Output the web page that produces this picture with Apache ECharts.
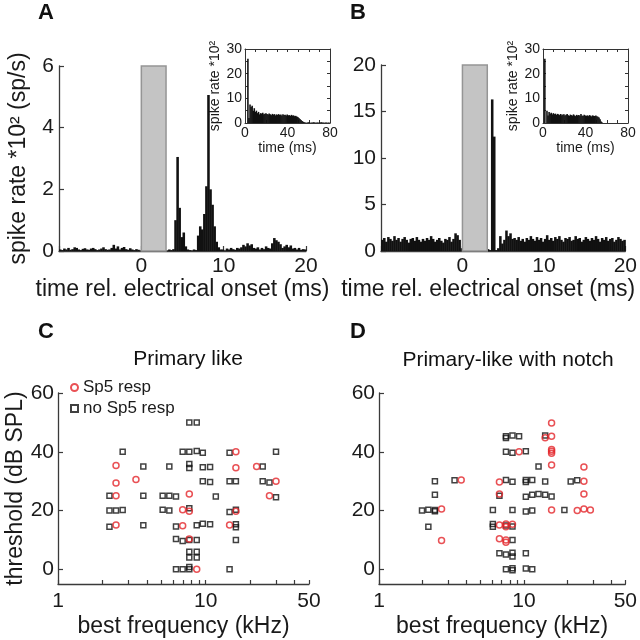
<!DOCTYPE html>
<html><head><meta charset="utf-8">
<script src="https://cdn.jsdelivr.net/npm/echarts@6/dist/echarts.min.js"></script>
<style>html,body{margin:0;padding:0;background:#fff}#c{width:640px;height:640px}</style>
</head><body><div id="c"></div>
<script>
// ---------- DATA ----------
// PSTH bins (main panels): start time (ms) and width (ms); values in *10^2 sp/s
const mainBinStart = -10;
const mainBinWidth = 0.25;
const histA = [
 0.05,0.03,0.08,0.05,0.1,0.04,0.06,0.12,0.1,0.05,
 0.03,0.07,0.09,0.05,0.04,0.08,0.1,0.06,0.03,0.05,
 0.08,0.12,0.06,0.04,0.05,0.1,0.2,0.08,0.15,0.05,
 0.1,0.13,0.06,0.04,0.09,0.05,0.03,0.06,0.04,0.02,
 0,0,0,0,0,0,0,0,0,0,0,0,
 0.02,0.05,0.03,0.06,
 1.0,3.05,1.4,0.45,0.6,0.15,0.05,0.03,
 0.02,0.05,0.03,
 0.5,0.8,0.7,1.2,2.1,5.06,2.0,1.5,0.8,0.3,0.12,0.05,
 0.05,0.02,0.08,0.05,0.1,0.06,0.04,0.1,0.08,0.12,0.2,0.15,0.25,0.18,0.22,0.1,0.08,0.12,0.05,0.1,
 0.06,0.15,0.1,0.08,0.25,0.42,0.35,0.3,0.22,0.1,0.15,0.2,0.12,0.18,0.08,0.1,0.05,0.1,0.04,0.06,0.05
];
const histB = [
 1.2,1.4,1.0,1.5,1.3,1.1,1.6,1.2,1.4,1.0,
 1.3,1.5,1.2,0.9,1.3,1.4,1.1,1.5,1.2,1.0,
 1.3,1.1,1.4,1.2,1.6,1.3,1.0,1.2,1.4,1.1,
 0.9,1.3,1.2,1.5,1.0,1.3,1.9,1.7,1.2,0.3,
 0,0,0,0,0,0,0,0,0,0,0,0,
 0.2,0.1,16.3,12.3,
 0.1,0.3,1.6,0.8,1.2,2.2,1.6,1.9,1.3,
 1.4,1.2,1.5,1.1,1.3,1.0,1.4,1.2,1.6,1.3,
 1.1,1.5,1.2,1.4,1.0,1.3,1.7,1.2,1.4,1.1,
 1.5,1.3,1.6,1.2,1.0,1.4,1.3,1.5,1.1,1.2,
 1.6,1.3,1.4,1.0,1.2,1.5,1.3,1.1,1.4,1.2,
 1.6,1.3,1.0,1.4,1.2,1.5,1.1,1.3,1.4,1.0,
 1.2,1.5,1.3,1.1,1.2
];
// stimulus (grey) window, ms
const stimA = [0, 3];
const stimB = [0, 3.05];
// inset PSTHs: 1 ms bins from 0 ms
const insetBinStart = 0;
const insetBinWidth = 1;
const insetA = [
 0,0,26,2,7.5,6.5,7,5,6,4.5,
 5,4,4.5,3.5,4,3.8,4.2,3.5,3.8,4,
 3.6,3.4,3.9,3.5,3.2,3.7,3.4,3.6,3.1,3.5,
 3.3,3.6,3.2,3.4,3.0,3.5,3.2,3.3,3.0,3.4,
 3.1,3.2,2.9,3.3,3.0,3.1,2.8,2.9,2.6,2.4,
 2.0,1.6,1.2,0.8,0.5,0.3,0.2,0.1,0.2,0.3,
 0.2,0.1,0.2,0.2,0.3,0.2,0.1,0.2,0.2,0.1,
 0.2,0.3,0.2,0.2,0.1,0.2,0.2,0.1,0.2,0.1
];
const insetB = [
 0,26,0,5,3,4.5,3.8,4.2,3.5,4,
 3.6,3.8,3.3,3.7,3.5,3.2,3.6,3.1,3.4,3.5,
 3.0,3.3,3.6,3.1,2.9,3.4,3.2,3.0,3.5,3.1,
 2.8,3.3,3.0,3.2,2.9,3.6,3.0,2.8,3.3,3.0,
 2.9,3.1,2.8,3.2,3.0,2.7,3.1,2.9,2.8,3.0,
 2.7,2.5,2.2,1.5,0.6,0.2,0,0,0,0,
 0,0,0,0,0,0,0,0,0,0,
 0,0,0,0,0,0,0,0,0,0
];
// scatter: [best frequency kHz, threshold dB SPL]
const cResp = [[16.0,40],[2.47,35.3],[16.0,34.6],[22.1,35],[2.47,29.4],[3.37,30.6],[29.9,30],[2.47,25],[7.74,25.6],[27.0,25],[6.98,20.3],[7.74,19.8],[16.0,19.8],[2.47,15.1],[6.98,14.8],[14.5,15.1],[7.74,10.3],[8.69,0]];
const cNoResp = [[7.74,50],[8.69,50],[2.74,40],[6.98,40],[7.74,40],[8.69,40.3],[9.55,39.7],[14.5,39.7],[29.9,40],[3.78,35],[5.67,35],[7.74,34.5],[7.74,35.8],[9.55,34.7],[10.7,34.8],[24.3,35],[9.55,30],[10.7,29.7],[14.5,30],[16.0,30],[24.3,30],[27.0,29.5],[2.23,25],[3.78,25],[5.11,25],[5.67,25],[6.29,24.8],[11.7,24.8],[29.9,24.5],[2.23,20],[2.47,20],[2.74,20.2],[5.11,20.3],[5.67,20],[7.74,20.8],[14.5,19.5],[16.0,20.3],[2.23,14.5],[3.78,15],[6.29,14.6],[8.69,15],[9.55,15.5],[10.7,15.3],[16.0,14.3],[16.0,15.3],[6.29,10.3],[6.98,9.6],[7.74,10],[8.69,10],[16.0,10],[7.74,4],[7.74,6],[8.69,4],[8.69,6],[6.29,0],[6.98,0],[7.74,0],[7.74,0.8],[14.5,0]];
const dResp = [[15.5,49.8],[14.0,44.8],[15.5,45.3],[9.25,40],[15.5,40.8],[15.5,40.2],[15.5,39.5],[15.5,35.5],[25.9,34.8],[3.69,30.4],[6.77,29.7],[25.9,30],[6.77,25.6],[25.9,25.6],[2.70,20.5],[15.5,20.2],[23.3,20],[25.9,20.5],[28.7,20.2],[6.77,15.1],[7.51,15.4],[7.51,14.5],[8.33,15.3],[2.70,9.8],[6.77,10.4],[7.51,10],[7.51,9.2]];
const dNoResp = [[7.51,45.3],[7.51,44.7],[8.33,45.5],[9.25,45.3],[14.0,45.5],[7.51,40],[8.33,39.7],[10.3,40.2],[12.6,35],[2.43,30],[3.32,30.3],[7.51,30.4],[8.33,29.8],[10.3,30.4],[10.3,29.7],[11.4,30.4],[14.0,29.9],[21.0,29.9],[23.3,30.3],[2.43,25.4],[6.77,25],[10.3,24.7],[11.4,25.4],[12.6,25.6],[14.0,25.4],[15.5,24.8],[1.98,20],[2.19,20.3],[2.43,20.2],[2.43,19.8],[6.10,20.2],[8.33,20.2],[10.3,19.7],[11.4,20],[19.0,20.2],[2.19,14.5],[6.10,15.4],[6.10,14.5],[7.51,14.9],[8.33,14.6],[8.33,10],[6.77,5.5],[7.51,5],[8.33,5.6],[8.33,4.4],[10.3,5.5],[7.51,0],[8.33,0.4],[8.33,-0.3],[10.3,0.3],[11.4,0]];
// tick values
const freqLabelTicks = [1, 10, 50];
const freqMinorTicks = [1,2,3,4,5,6,7,8,9,10,20,30,40,50];
const thrTicks = [0, 20, 40, 60];

// ---------- BUILD ----------
const FONT = '"Liberation Sans", Arial, Helvetica, sans-serif';
const AX = '#3a3a3a';
const NAME_FS = 23;
function hist(vals, start, w) { return vals.map((v, i) => [start + i * w, start + (i + 1) * w, v]); }
function renderRect(fill) {
  return function (params, api) {
    const p0 = api.coord([api.value(0), api.value(2)]);
    const p1 = api.coord([api.value(1), 0]);
    return { type: 'rect', shape: { x: p0[0], y: p0[1], width: p1[0] - p0[0] + 0.5, height: p1[1] - p0[1] },
      style: { fill: fill } };
  };
}
function renderStim(params, api) {
  const p0 = api.coord([api.value(0), api.value(2)]);
  const p1 = api.coord([api.value(1), 0]);
  return { type: 'rect', shape: { x: p0[0], y: p0[1], width: p1[0] - p0[0], height: p1[1] - p0[1] },
    style: { fill: '#c4c4c4', stroke: '#959595', lineWidth: 1.5 } };
}
function mainAxis(extra) {
  return Object.assign({
    type: 'value', splitLine: { show: false },
    axisLine: { show: true, onZero: false, lineStyle: { color: AX, width: 1.3 } },
    axisTick: { show: true, inside: true, length: 5, lineStyle: { color: AX, width: 1.2 } },
    axisLabel: { color: '#1a1a1a', fontSize: 21, fontFamily: FONT, margin: 5 },
    nameTextStyle: { color: '#1a1a1a', fontSize: NAME_FS, fontFamily: FONT }
  }, extra);
}
function insetAxis(extra, showLabel) {
  return Object.assign({
    type: 'value', splitLine: { show: false },
    axisLine: { show: true, onZero: false, lineStyle: { color: '#333', width: 1 } },
    axisTick: { show: true, inside: true, length: 3, lineStyle: { color: '#333', width: 1 } },
    axisLabel: { show: showLabel, color: '#1a1a1a', fontSize: 14, fontFamily: FONT, margin: 3 },
    nameTextStyle: { color: '#1a1a1a', fontSize: 14, fontFamily: FONT }
  }, extra);
}
const lg = v => Math.log10(v);
const freqAxis = (gi) => mainAxis({
  gridIndex: gi, min: 0, max: lg(50),
  name: 'best frequency (kHz)', nameLocation: 'middle', nameGap: 31,
  axisTick: { show: true, inside: true, length: 4, customValues: freqMinorTicks.map(lg), lineStyle: { color: AX, width: 1.2 } },
  axisLabel: { color: '#1a1a1a', fontSize: 21, fontFamily: FONT, margin: 7, customValues: freqLabelTicks.map(lg),
    formatter: v => String(Math.round(Math.pow(10, v))) }
});
const thrAxis = (gi, withName) => mainAxis(Object.assign({
  gridIndex: gi, min: -5, max: 60,
  axisTick: { show: true, inside: true, length: 5, customValues: thrTicks, lineStyle: { color: AX, width: 1.2 } },
  axisLabel: { color: '#1a1a1a', fontSize: 21, fontFamily: FONT, margin: 4, customValues: thrTicks }
}, withName ? { name: 'threshold (dB SPL)', nameLocation: 'middle', nameGap: 28 } : {}));

const redStyle = { color: 'rgba(255,255,255,0)', borderColor: '#e3262b', borderWidth: 1.5 };
const blkStyle = { color: 'rgba(255,255,255,0)', borderColor: '#111', borderWidth: 1.5 };
const toLog = arr => arr.map(p => [lg(p[0]), p[1]]);
const timeName = 'time rel. electrical onset (ms)';

const option = {
  animation: false,
  backgroundColor: '#fff',
  textStyle: { fontFamily: FONT },
  grid: [
    { left: 59, top: 66, width: 247, height: 185 },   // 0 A
    { left: 245, top: 49, width: 85, height: 74 },    // 1 A inset
    { left: 381, top: 65, width: 246, height: 186 },  // 2 B
    { left: 543, top: 49, width: 85, height: 74 },    // 3 B inset
    { left: 58, top: 393, width: 251, height: 191 },  // 4 C
    { left: 379, top: 393, width: 251, height: 191 }  // 5 D
  ],
  xAxis: [
    mainAxis({ gridIndex: 0, min: -10, max: 20, interval: 10, name: timeName, nameLocation: 'middle', nameGap: 27,
      axisLabel: { color: '#1a1a1a', fontSize: 21, fontFamily: FONT, margin: 5, formatter: v => v === -10 ? '' : String(v) } }),
    insetAxis({ gridIndex: 1, min: 0, max: 80, interval: 10, name: 'time (ms)', nameLocation: 'middle', nameGap: 16,
      axisLabel: { show: true, color: '#1a1a1a', fontSize: 14, fontFamily: FONT, margin: 3, showMaxLabel: true, formatter: v => v % 40 === 0 ? String(v) : '' } }, true),
    insetAxis({ gridIndex: 1, min: 0, max: 80, interval: 10, position: 'top' }, false),
    mainAxis({ gridIndex: 2, min: -10, max: 20, interval: 10, name: timeName, nameLocation: 'middle', nameGap: 27,
      nameTextStyle: { color: '#1a1a1a', fontSize: NAME_FS, fontFamily: FONT, padding: [0, 30, 0, 0] },
      axisLabel: { color: '#1a1a1a', fontSize: 21, fontFamily: FONT, margin: 5, formatter: v => v === -10 ? '' : String(v) } }),
    insetAxis({ gridIndex: 3, min: 0, max: 80, interval: 10, name: 'time (ms)', nameLocation: 'middle', nameGap: 16,
      axisLabel: { show: true, color: '#1a1a1a', fontSize: 14, fontFamily: FONT, margin: 3, showMaxLabel: true, formatter: v => v % 40 === 0 ? String(v) : '' } }, true),
    insetAxis({ gridIndex: 3, min: 0, max: 80, interval: 10, position: 'top' }, false),
    freqAxis(4),
    freqAxis(5)
  ],
  yAxis: [
    mainAxis({ gridIndex: 0, min: 0, max: 6, interval: 2, name: 'spike rate *10\u00B2 (sp/s)', nameLocation: 'middle', nameGap: 29 }),
    insetAxis({ gridIndex: 1, min: 0, max: 30, interval: 5, name: 'spike rate *10\u00B2', nameLocation: 'middle', nameGap: 19,
      axisLabel: { show: true, color: '#1a1a1a', fontSize: 14, fontFamily: FONT, margin: 3, formatter: v => v % 10 === 0 ? String(v) : '' } }, true),
    insetAxis({ gridIndex: 1, min: 0, max: 30, interval: 5, position: 'right' }, false),
    mainAxis({ gridIndex: 2, min: 0, max: 20, interval: 5 }),
    insetAxis({ gridIndex: 3, min: 0, max: 30, interval: 5, name: 'spike rate *10\u00B2', nameLocation: 'middle', nameGap: 19,
      axisLabel: { show: true, color: '#1a1a1a', fontSize: 14, fontFamily: FONT, margin: 3, formatter: v => v % 10 === 0 ? String(v) : '' } }, true),
    insetAxis({ gridIndex: 3, min: 0, max: 30, interval: 5, position: 'right' }, false),
    thrAxis(4, true),
    thrAxis(5, false)
  ],
  legend: {
    orient: 'vertical', left: 65, top: 374, itemGap: 4, itemWidth: 7, itemHeight: 7,
    textStyle: { fontSize: 17, fontFamily: FONT, color: '#1a1a1a' },
    data: [{ name: 'Sp5 resp', icon: 'circle' }, { name: 'no Sp5 resp', icon: 'rect' }]
  },
  graphic: [
    { type: 'text', x: 46, y: 13, style: { text: 'A', fontSize: 22, fontWeight: 'bold', fontFamily: FONT, fill: '#111', align: 'center', verticalAlign: 'middle' } },
    { type: 'text', x: 358, y: 13, style: { text: 'B', fontSize: 22, fontWeight: 'bold', fontFamily: FONT, fill: '#111', align: 'center', verticalAlign: 'middle' } },
    { type: 'text', x: 46, y: 332, style: { text: 'C', fontSize: 22, fontWeight: 'bold', fontFamily: FONT, fill: '#111', align: 'center', verticalAlign: 'middle' } },
    { type: 'text', x: 358, y: 332, style: { text: 'D', fontSize: 22, fontWeight: 'bold', fontFamily: FONT, fill: '#111', align: 'center', verticalAlign: 'middle' } },
    { type: 'text', x: 188, y: 359, style: { text: 'Primary like', fontSize: 21, fontFamily: FONT, fill: '#111', align: 'center', verticalAlign: 'middle' } },
    { type: 'text', x: 508, y: 360, style: { text: 'Primary-like with notch', fontSize: 21, fontFamily: FONT, fill: '#111', align: 'center', verticalAlign: 'middle' } }
  ],
  series: [
    { type: 'custom', xAxisIndex: 0, yAxisIndex: 0, encode: { x: [0, 1], y: 2 }, renderItem: renderRect('#111'), data: hist(histA, mainBinStart, mainBinWidth) },
    { type: 'custom', xAxisIndex: 0, yAxisIndex: 0, encode: { x: [0, 1], y: 2 }, renderItem: renderStim, data: [[stimA[0], stimA[1], 6]], z: 3 },
    { type: 'custom', xAxisIndex: 1, yAxisIndex: 1, encode: { x: [0, 1], y: 2 }, renderItem: renderRect('#111'), data: hist(insetA, insetBinStart, insetBinWidth) },
    { type: 'custom', xAxisIndex: 3, yAxisIndex: 3, encode: { x: [0, 1], y: 2 }, renderItem: renderRect('#111'), data: hist(histB, mainBinStart, mainBinWidth) },
    { type: 'custom', xAxisIndex: 3, yAxisIndex: 3, encode: { x: [0, 1], y: 2 }, renderItem: renderStim, data: [[stimB[0], stimB[1], 20]], z: 3 },
    { type: 'custom', xAxisIndex: 4, yAxisIndex: 4, encode: { x: [0, 1], y: 2 }, renderItem: renderRect('#111'), data: hist(insetB, insetBinStart, insetBinWidth) },
    { type: 'scatter', name: 'no Sp5 resp', xAxisIndex: 6, yAxisIndex: 6, symbol: 'rect', symbolSize: 5, itemStyle: blkStyle, data: toLog(cNoResp) },
    { type: 'scatter', name: 'Sp5 resp', xAxisIndex: 6, yAxisIndex: 6, symbol: 'circle', symbolSize: 6, itemStyle: redStyle, data: toLog(cResp) },
    { type: 'scatter', name: 'no Sp5 resp', xAxisIndex: 7, yAxisIndex: 7, symbol: 'rect', symbolSize: 5, itemStyle: blkStyle, data: toLog(dNoResp) },
    { type: 'scatter', name: 'Sp5 resp', xAxisIndex: 7, yAxisIndex: 7, symbol: 'circle', symbolSize: 6, itemStyle: redStyle, data: toLog(dResp) }
  ]
};
const chart = echarts.init(document.getElementById('c'), null, { renderer: 'canvas' });
chart.setOption(option);
</script>
</body></html>
